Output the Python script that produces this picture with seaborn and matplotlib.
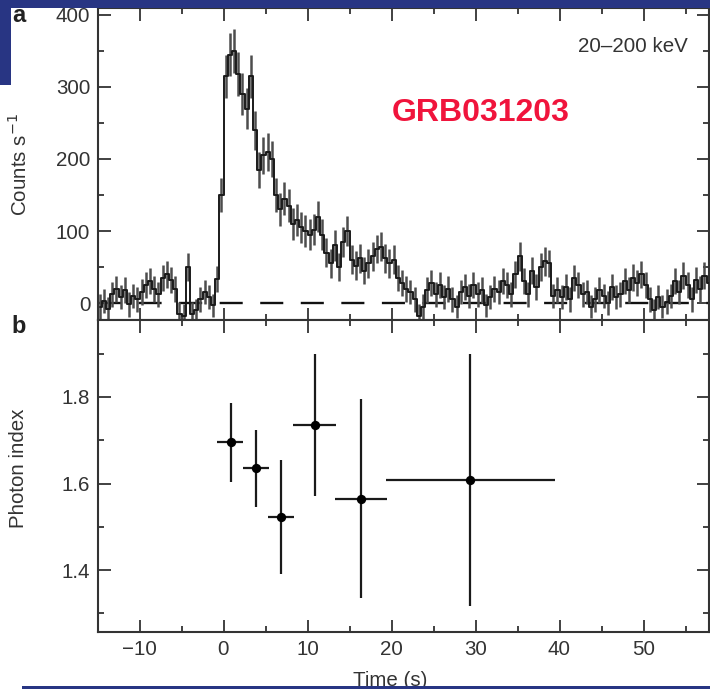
import numpy as np
import matplotlib
matplotlib.use("Agg")
import matplotlib.pyplot as plt
from matplotlib.patches import Rectangle
from matplotlib.ticker import MultipleLocator
import seaborn as sns
import pandas as pd

# ---------------- data ----------------
bin_start = -15.0
bin_width = 0.5
counts = [
    -5, 3, -8, 12, 20, 8, 18, -2, 10, 5,
    15, 25, 30, 20, 12, 35, 40, 32, 20, -15,
    -18, 50, -15, -10, 5, 15, 8, -3, 33, 150,
    315, 345, 350, 318, 290, 270, 315, 240, 185, 205,
    210, 200, 150, 130, 145, 135, 110, 115, 105, 100,
    95, 102, 120, 95, 70, 55, 80, 50, 85, 100,
    60, 52, 62, 45, 55, 65, 75, 78, 62, 55,
    60, 35, 28, 20, 15, 5, -18, -5, 18, 28,
    12, 25, 8, 20, 5, -5, 15, 22, 10, 25,
    12, 18, -3, 8, 20, 15, 30, 25, 12, 40,
    65, 30, 12, 45, 22, 50, 58, 55, 10, 18,
    8, 22, 5, 35, 25, 12, 15, -5, 5, 18,
    10, 0, 22, 8, 12, 30, 18, 35, 28, 40,
    25, 5, -10, 8, -5, 2, 10, 30, 15, 38,
    25, 5, 32, 20, 38, 28,
]
count_err = [
    17, 17, 17, 17, 18, 17, 18, 17, 17, 17,
    18, 18, 18, 18, 17, 18, 19, 18, 18, 16,
    16, 20, 16, 16, 17, 17, 17, 16, 18, 24,
    30, 30, 31, 30, 29, 28, 30, 27, 25, 26,
    26, 25, 23, 23, 23, 23, 22, 22, 22, 22,
    21, 22, 22, 21, 20, 20, 21, 20, 21, 21,
    20, 20, 20, 19, 20, 20, 20, 20, 20, 20,
    20, 18, 18, 18, 17, 17, 16, 17, 18, 18,
    17, 18, 17, 18, 17, 16, 17, 18, 17, 18,
    17, 18, 16, 17, 18, 17, 18, 18, 17, 19,
    20, 18, 17, 19, 18, 19, 20, 19, 17, 18,
    17, 18, 17, 18, 18, 17, 17, 16, 17, 18,
    17, 16, 18, 17, 17, 18, 18, 19, 18, 19,
    18, 17, 16, 17, 16, 17, 17, 18, 17, 19,
    18, 17, 18, 18, 19, 18,
]

pi_time = [0.86, 3.83, 6.81, 10.86, 16.33, 29.4]
pi_time_lo = [-0.75, 2.29, 5.26, 8.24, 13.27, 19.3]
pi_time_hi = [2.36, 5.38, 8.39, 13.39, 19.5, 39.5]
pi_value = [1.697, 1.635, 1.523, 1.736, 1.564, 1.608]
pi_value_lo = [1.604, 1.546, 1.391, 1.571, 1.336, 1.317]
pi_value_hi = [1.787, 1.724, 1.654, 1.899, 1.795, 1.899]

count_ticks = [0, 100, 200, 300, 400]
index_ticks = [1.4, 1.6, 1.8]
time_ticks = [-10, 0, 10, 20, 30, 40, 50]

# ---------------- style ----------------
sns.set_theme(style="ticks")
plt.rcParams['font.family'] = ['Liberation Sans', 'DejaVu Sans']
plt.rcParams['lines.scale_dashes'] = False
INK = '#333333'
NAVY = '#283583'
FS = 14.8

W, H = 710, 689
fig = plt.figure(figsize=(W / 100, H / 100), dpi=100)
fig.patch.set_facecolor('white')

x0, x1 = 98, 709
ax1 = fig.add_axes([x0 / W, 1 - 320 / H, (x1 - x0) / W, (320 - 8) / H])
ax2 = fig.add_axes([x0 / W, 1 - 632 / H, (x1 - x0) / W, (632 - 320) / H], sharex=ax1)

# light curve
n = len(counts)
t_centers = bin_start + bin_width * (np.arange(n) + 0.5)
lc = pd.DataFrame({'time': t_centers, 'rate': counts, 'err': count_err})

ax1.errorbar(lc['time'], lc['rate'], yerr=lc['err'], fmt='none',
             ecolor='#4d4d4d', elinewidth=1.8, capsize=0, zorder=2)
sns.lineplot(data=lc, x='time', y='rate', ax=ax1, drawstyle='steps-mid',
             color='#1a1a1a', lw=1.4, zorder=3, estimator=None)
ax1.axhline(0, color='#111111', lw=1.7, ls=(0, (16.6, 12.6)), zorder=1)

# photon index
pi = pd.DataFrame({'time': pi_time, 'index': pi_value})
xerr = [np.array(pi_time) - np.array(pi_time_lo), np.array(pi_time_hi) - np.array(pi_time)]
yerr = [np.array(pi_value) - np.array(pi_value_lo), np.array(pi_value_hi) - np.array(pi_value)]
ax2.errorbar(pi_time, pi_value, xerr=xerr, yerr=yerr, fmt='none',
             ecolor='#1a1a1a', elinewidth=1.6, capsize=0, zorder=2)
sns.scatterplot(data=pi, x='time', y='index', ax=ax2, color='black',
                s=45, edgecolor='black', linewidth=0, zorder=3)

# axes limits
ax1.set_xlim((x0 - 223.5) / 8.4, (x1 - 223.5) / 8.4)
ax1.set_ylim((303 - 320) / 0.72, (303 - 8) / 0.72)
ax2.set_ylim(1.8 - (632 - 397) / 432.5, 1.8 + (397 - 320) / 432.5)

for ax in (ax1, ax2):
    ax.set_xlabel('')
    ax.set_ylabel('')
    for sp in ax.spines.values():
        sp.set_visible(True)
        sp.set_color(INK)
        sp.set_linewidth(1.5)
    ax.tick_params(which='both', direction='in', top=True, right=True,
                   color=INK, labelcolor=INK, labelsize=FS, width=1.3)
    ax.tick_params(which='major', length=9, pad=5.5)
    ax.tick_params(which='minor', length=4.5)
    ax.xaxis.set_major_locator(MultipleLocator(10))
    ax.xaxis.set_minor_locator(MultipleLocator(5))
    ax.set_facecolor('white')

ax1.set_yticks(count_ticks)
ax1.yaxis.set_minor_locator(MultipleLocator(50))
ax1.tick_params(axis='x', labelbottom=False)
ax2.set_yticks(index_ticks)
ax2.set_yticklabels([f'{v:.1f}' for v in index_ticks])
ax2.yaxis.set_minor_locator(MultipleLocator(0.1))
ax2.set_xticks(time_ticks)
ax2.set_xticklabels([f'{v}'.replace('-', '\u2212') for v in time_ticks])

# texts
fig.text(19 / W, 1 - 165 / H, 'Counts s$^{-1}$', rotation=90, ha='center', va='center',
         fontsize=FS, color=INK)
fig.text(19 / W, 1 - 468 / H, 'Photon index', rotation=90, ha='center', va='center',
         fontsize=FS, color=INK)
fig.text(390 / W, 1 - 680 / H, 'Time (s)', ha='center', va='center', fontsize=FS, color=INK)
fig.text(688 / W, 1 - 47 / H, '20\u2013200 keV', ha='right', va='center', fontsize=FS, color=INK)
fig.text(481 / W, 1 - 113 / H, 'GRB031203', ha='center', va='center', fontsize=23,
         fontweight='bold', color='#f0143c')
fig.text(19 / W, 1 - 16 / H, 'a', ha='center', va='center', fontsize=17, fontweight='bold',
         color='#222222')
fig.text(19 / W, 1 - 326 / H, 'b', ha='center', va='center', fontsize=17, fontweight='bold',
         color='#222222')

# slide background pieces
for (rx, ry, rw, rh) in [(0, 0, W, 8), (0, 0, 11, 85), (22, 686, W - 22, 3)]:
    fig.add_artist(Rectangle((rx / W, 1 - (ry + rh) / H), rw / W, rh / H,
                             transform=fig.transFigure, facecolor=NAVY,
                             edgecolor='none', zorder=20))

fig.savefig('out.png', dpi=100, facecolor='white')
